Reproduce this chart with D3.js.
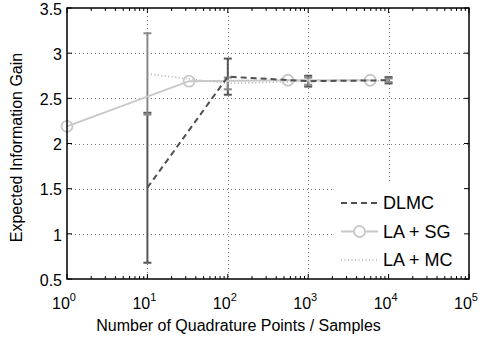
<!DOCTYPE html>
<html>
<head>
<meta charset="utf-8">
<script src="https://cdn.jsdelivr.net/npm/d3@7"></script>
<style>
  body { margin: 0; background: #fff; }
  text { font-family: "Liberation Sans", Arial, sans-serif; fill: #000; }
</style>
</head>
<body>
<div id="chart"></div>
<script>
// Data
const dlmcN = [10, 100, 1000, 10000];
const dlmcMean = [1.51, 2.74, 2.69, 2.70];
const dlmcErr = [0.83, 0.20, 0.06, 0.035];

const sgN = [1, 33, 560, 5900];
const sgMean = [2.19, 2.69, 2.70, 2.70];

const mcN = [10, 100, 1000, 10000];
const mcMean = [2.77, 2.665, 2.69, 2.70];
const mcErr = [0.45, 0.065, 0.04, 0.02];

const yTicks = [0.5, 1, 1.5, 2, 2.5, 3, 3.5];
const xTicks = [1, 10, 100, 1000, 10000, 100000];

// Set up dimensions
const W = 480, H = 340;
const plot = {left: 67, right: 469, top: 8, bottom: 279};

const svg = d3.select("#chart")
  .append("svg")
  .attr("width", W)
  .attr("height", H);

const x = d3.scaleLog().domain([1, 1e5]).range([plot.left, plot.right]);
const y = d3.scaleLinear().domain([0.5, 3.5]).range([plot.bottom, plot.top]);

// Grid (dotted)
const grid = svg.append("g")
  .attr("stroke", "#777")
  .attr("stroke-width", 1)
  .attr("stroke-dasharray", "1,3");
grid.selectAll(".gx")
  .data(xTicks.slice(1, -1))
  .join("line")
  .attr("x1", d => Math.round(x(d)) + 0.5)
  .attr("x2", d => Math.round(x(d)) + 0.5)
  .attr("y1", plot.top)
  .attr("y2", plot.bottom);
grid.selectAll(".gy")
  .data(yTicks.slice(1, -1))
  .join("line")
  .attr("y1", d => Math.round(y(d)) + 0.5)
  .attr("y2", d => Math.round(y(d)) + 0.5)
  .attr("x1", plot.left)
  .attr("x2", plot.right);

// Legend background hides grid underneath
svg.append("rect")
  .attr("x", 333).attr("y", 184)
  .attr("width", plot.right - 333).attr("height", plot.bottom - 184)
  .attr("fill", "#fff");

// Series
const line = d3.line().x(d => x(d[0])).y(d => y(d[1]));

function errorBars(n, mean, err, color, width) {
  const g = svg.append("g").attr("stroke", color).attr("stroke-width", width);
  n.forEach((d, i) => {
    const cx = x(d);
    const lo = y(mean[i] - err[i]), hi = y(mean[i] + err[i]);
    g.append("line").attr("x1", cx).attr("x2", cx).attr("y1", lo).attr("y2", hi);
    g.append("line").attr("x1", cx - 4).attr("x2", cx + 4).attr("y1", lo).attr("y2", lo);
    g.append("line").attr("x1", cx - 4).attr("x2", cx + 4).attr("y1", hi).attr("y2", hi);
  });
}

errorBars(dlmcN, dlmcMean, dlmcErr, "#555", 2);
errorBars(mcN, mcMean, mcErr, "#888", 2);

svg.append("path")
  .datum(d3.zip(mcN, mcMean))
  .attr("d", line)
  .attr("fill", "none")
  .attr("stroke", "#aaa")
  .attr("stroke-width", 1.5)
  .attr("stroke-dasharray", "1,2.5");

svg.append("path")
  .datum(d3.zip(sgN, sgMean))
  .attr("d", line)
  .attr("fill", "none")
  .attr("stroke", "#c8c8c8")
  .attr("stroke-width", 2);

svg.append("g")
  .selectAll("circle")
  .data(d3.zip(sgN, sgMean))
  .join("circle")
  .attr("cx", d => x(d[0]))
  .attr("cy", d => y(d[1]))
  .attr("r", 5.5)
  .attr("fill", "none")
  .attr("stroke", "#c8c8c8")
  .attr("stroke-width", 1.8);

svg.append("path")
  .datum(d3.zip(dlmcN, dlmcMean))
  .attr("d", line)
  .attr("fill", "none")
  .attr("stroke", "#505050")
  .attr("stroke-width", 2)
  .attr("stroke-dasharray", "6,4");

// Frame and ticks
svg.append("rect")
  .attr("x", plot.left).attr("y", plot.top)
  .attr("width", plot.right - plot.left).attr("height", plot.bottom - plot.top)
  .attr("fill", "none").attr("stroke", "#000").attr("stroke-width", 1.5);

const minor = [];
for (let e = 0; e < 5; e++) for (let k = 2; k < 10; k++) minor.push(k * Math.pow(10, e));

const ticks = svg.append("g").attr("stroke", "#000").attr("stroke-width", 1);
xTicks.forEach(d => {
  ticks.append("line").attr("x1", x(d)).attr("x2", x(d)).attr("y1", plot.bottom).attr("y2", plot.bottom - 5);
  ticks.append("line").attr("x1", x(d)).attr("x2", x(d)).attr("y1", plot.top).attr("y2", plot.top + 5);
});
minor.forEach(d => {
  ticks.append("line").attr("x1", x(d)).attr("x2", x(d)).attr("y1", plot.bottom).attr("y2", plot.bottom - 3);
  ticks.append("line").attr("x1", x(d)).attr("x2", x(d)).attr("y1", plot.top).attr("y2", plot.top + 3);
});
yTicks.forEach(d => {
  ticks.append("line").attr("x1", plot.left).attr("x2", plot.left + 5).attr("y1", y(d)).attr("y2", y(d));
  ticks.append("line").attr("x1", plot.right).attr("x2", plot.right - 5).attr("y1", y(d)).attr("y2", y(d));
});

// Tick labels
svg.append("g")
  .selectAll("text")
  .data(yTicks)
  .join("text")
  .attr("x", plot.left - 5)
  .attr("y", d => y(d) + 1)
  .attr("dy", "0.36em")
  .attr("text-anchor", "end")
  .style("font-size", "16px")
  .text(d => d);

const xl = svg.append("g")
  .selectAll("text")
  .data(xTicks)
  .join("text")
  .attr("x", d => x(d) - 3)
  .attr("y", 309)
  .attr("text-anchor", "middle")
  .style("font-size", "16px");
xl.append("tspan").text("10");
xl.append("tspan")
  .attr("dy", -8)
  .style("font-size", "11px")
  .text(d => Math.round(Math.log10(d)));

// Axis titles
svg.append("text")
  .attr("x", 238.5)
  .attr("y", 331)
  .attr("text-anchor", "middle")
  .style("font-size", "16px")
  .text("Number of Quadrature Points / Samples");

svg.append("text")
  .attr("transform", `translate(22,${(plot.top + plot.bottom) / 2 + 4}) rotate(-90)`)
  .attr("text-anchor", "middle")
  .style("font-size", "16px")
  .text("Expected Information Gain");

// Legend
const legendItems = [
  {label: "DLMC", color: "#505050", width: 2, dash: "6,4", marker: false},
  {label: "LA + SG", color: "#c8c8c8", width: 2, dash: null, marker: true},
  {label: "LA + MC", color: "#aaa", width: 1.5, dash: "1,2.5", marker: false}
];
const legendRow = svg.append("g")
  .selectAll("g")
  .data(legendItems)
  .join("g")
  .attr("transform", (_, i) => `translate(341,${203 + i * 28.5})`);

legendRow.append("line")
  .attr("x1", 0).attr("x2", 37)
  .attr("stroke", d => d.color)
  .attr("stroke-width", d => d.width)
  .attr("stroke-dasharray", d => d.dash);

legendRow.filter(d => d.marker)
  .append("circle")
  .attr("cx", 18.5).attr("r", 5.5)
  .attr("fill", "#fff")
  .attr("stroke", d => d.color)
  .attr("stroke-width", 1.8);

legendRow.append("text")
  .attr("x", 42)
  .attr("dy", "0.36em")
  .style("font-size", "18px")
  .text(d => d.label);
</script>
</body>
</html>
